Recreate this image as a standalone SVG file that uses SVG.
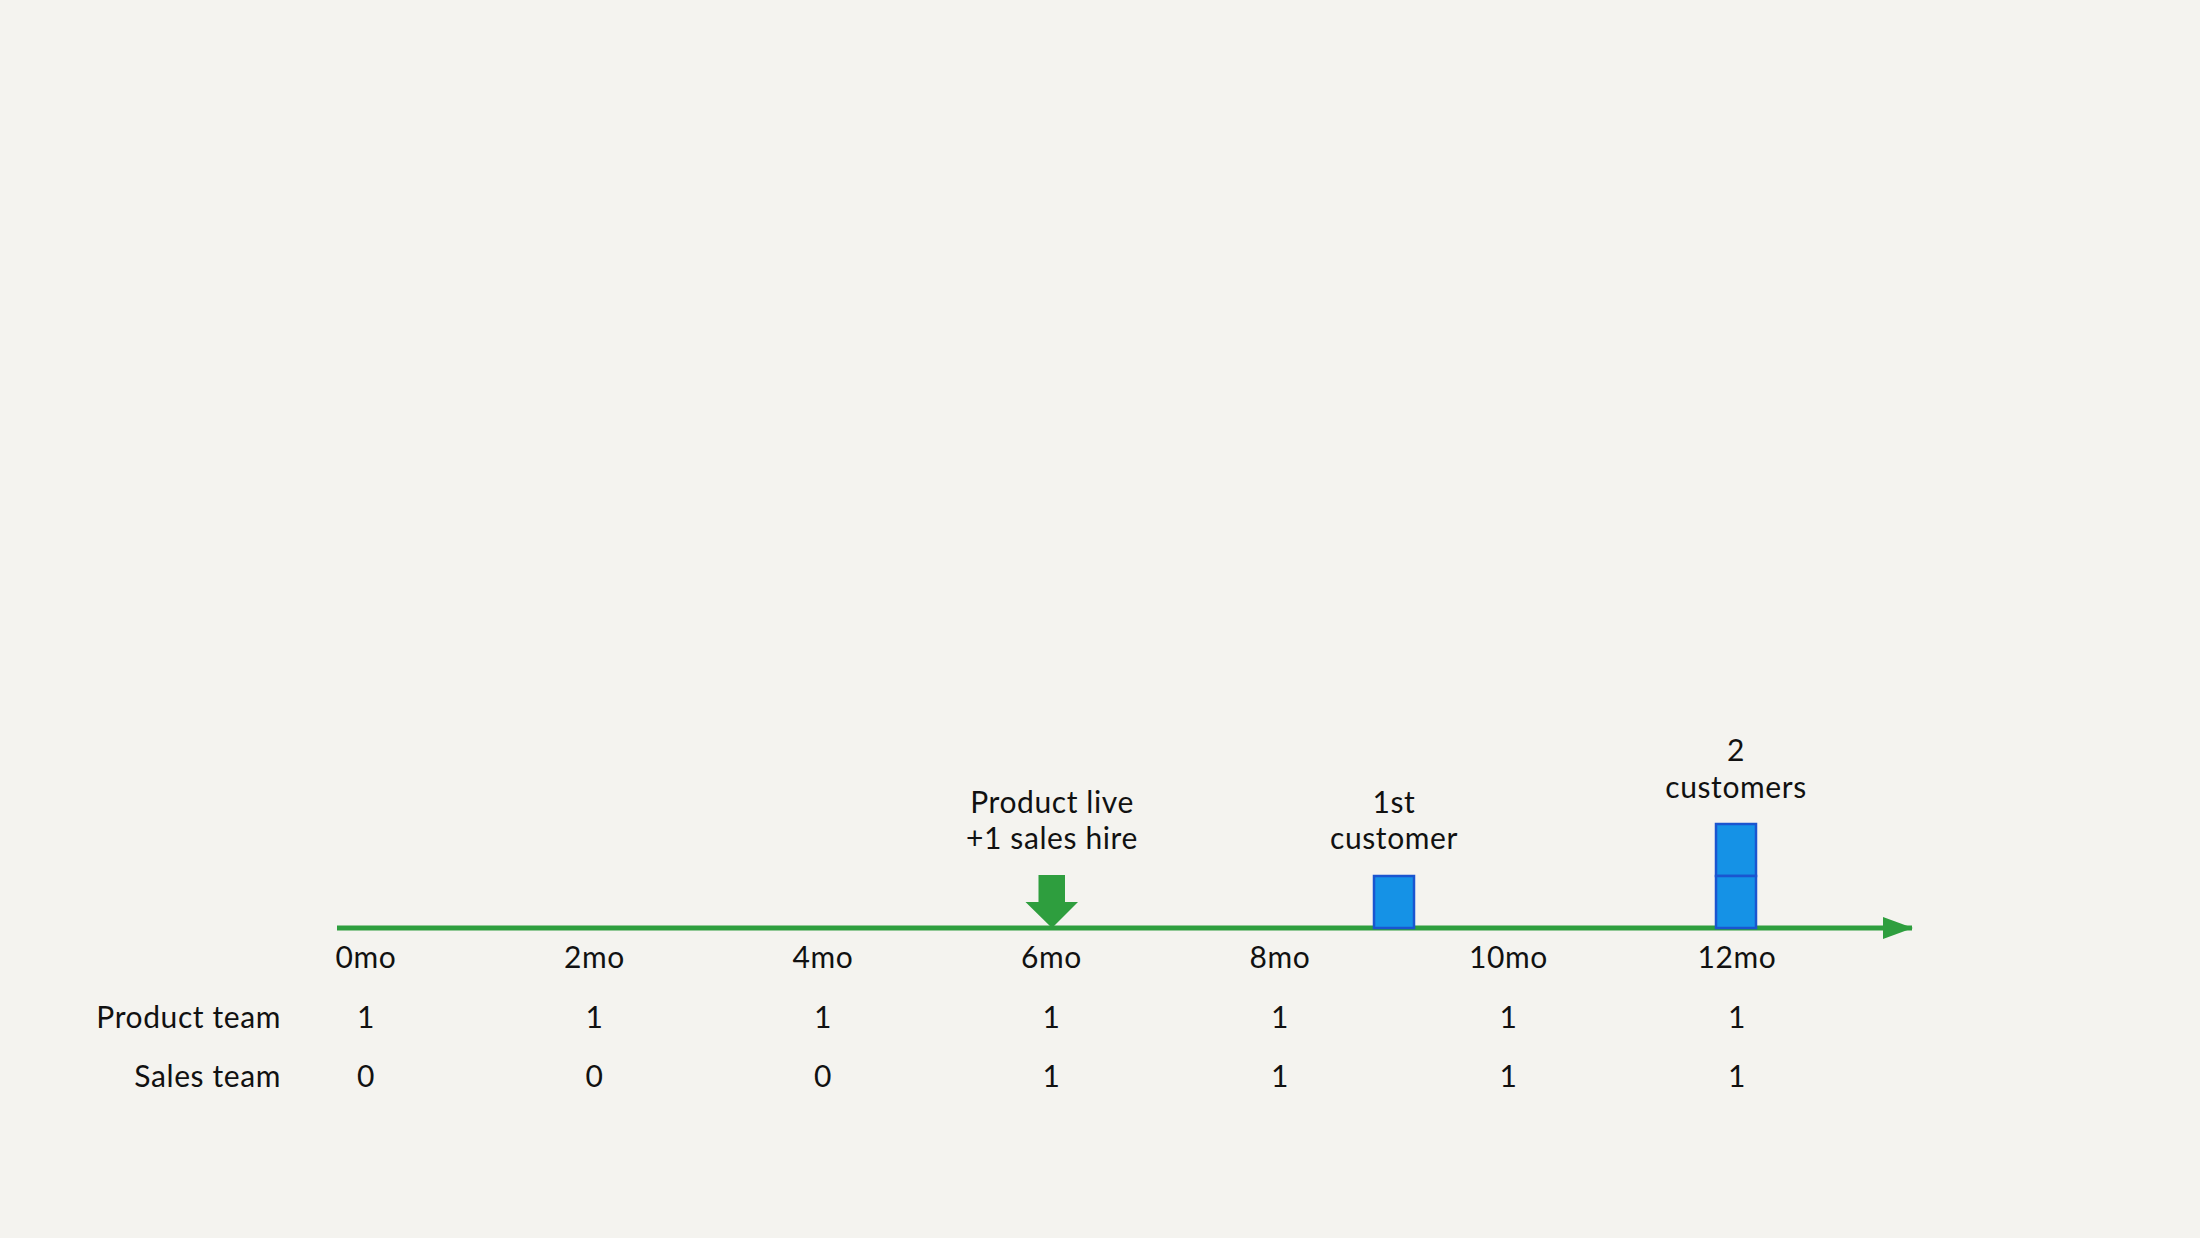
<svg xmlns="http://www.w3.org/2000/svg" width="2200" height="1238" viewBox="0 0 2200 1238">
<style>
  text { font-family: Lato, "Noto Sans", sans-serif; font-size: 30px; letter-spacing: 0.6px; fill: #111; }
  .c { text-anchor: middle; }
  .r { text-anchor: end; }
  .box { fill: #1592e6; stroke: #1a55d0; stroke-width: 2.5; }
</style>
<defs>
  <marker id="ah" markerUnits="userSpaceOnUse" markerWidth="30" markerHeight="24" refX="29" refY="11" orient="auto">
    <polygon points="0,0 30,11 0,22" fill="#2e9e3e"/>
  </marker>
</defs>
<rect width="2200" height="1238" fill="#f4f3ef"/>
<g id="connectors">
  <line x1="337" y1="928" x2="1912" y2="928" stroke="#2e9e3e" stroke-width="5" marker-end="url(#ah)"/>
</g>
<g id="ticks">
  <text class="c" x="366" y="968">0mo</text>
  <text class="c" x="594.5" y="968">2mo</text>
  <text class="c" x="823" y="968">4mo</text>
  <text class="c" x="1051.5" y="968">6mo</text>
  <text class="c" x="1280" y="968">8mo</text>
  <text class="c" x="1508.5" y="968">10mo</text>
  <text class="c" x="1737" y="968">12mo</text>
</g>
<g id="row-product">
  <text class="r" x="281" y="1028">Product team</text>
  <text class="c" x="366" y="1028">1</text>
  <text class="c" x="594.5" y="1028">1</text>
  <text class="c" x="823" y="1028">1</text>
  <text class="c" x="1051.5" y="1028">1</text>
  <text class="c" x="1280" y="1028">1</text>
  <text class="c" x="1508.5" y="1028">1</text>
  <text class="c" x="1737" y="1028">1</text>
</g>
<g id="row-sales">
  <text class="r" x="281" y="1087">Sales team</text>
  <text class="c" x="366" y="1087">0</text>
  <text class="c" x="594.5" y="1087">0</text>
  <text class="c" x="823" y="1087">0</text>
  <text class="c" x="1051.5" y="1087">1</text>
  <text class="c" x="1280" y="1087">1</text>
  <text class="c" x="1508.5" y="1087">1</text>
  <text class="c" x="1737" y="1087">1</text>
</g>
<g id="product-live">
  <polygon points="1038.5,875 1065,875 1065,902 1078,902 1052,928 1025.5,902 1038.5,902" fill="#2e9e3e"/>
  <text class="c" x="1052" y="813">Product live</text>
  <text class="c" x="1052" y="849">+1 sales hire</text>
</g>
<g id="first-customer">
  <rect class="box" x="1374" y="876" width="40" height="52"/>
  <text class="c" x="1394" y="813">1st</text>
  <text class="c" x="1394" y="849">customer</text>
</g>
<g id="two-customers">
  <rect class="box" x="1716" y="824" width="40" height="52"/>
  <rect class="box" x="1716" y="876" width="40" height="52"/>
  <text class="c" x="1736" y="761">2</text>
  <text class="c" x="1736" y="798">customers</text>
</g>
</svg>
